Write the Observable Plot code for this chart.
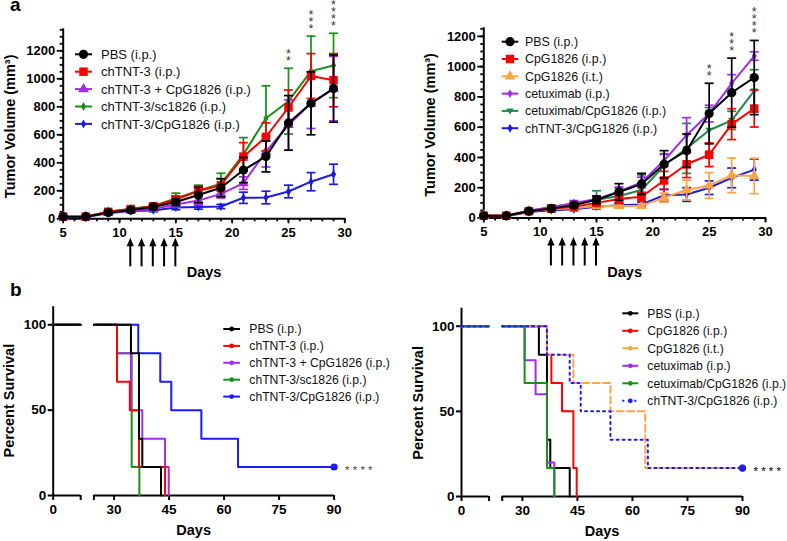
<!DOCTYPE html>
<html><head><meta charset="utf-8">
<script src="https://cdn.jsdelivr.net/npm/d3@7"></script>
<script src="https://cdn.jsdelivr.net/npm/@observablehq/plot@0.6"></script>
<style>
html,body{margin:0;padding:0;background:#fff;}
#root{position:relative;width:787px;height:541px;overflow:hidden;font-family:"Liberation Sans",Arial,Helvetica,sans-serif;}
#root svg{position:absolute;overflow:visible;}
.tag{position:absolute;font-weight:bold;font-size:19px;line-height:10px;}
</style></head><body>
<div id="root">
  <div class="tag" style="left:10px;top:0px">a</div>
  <div class="tag" style="left:10px;top:285px">b</div>
</div>
<script>
// ---------------- DATA ----------------
const days = [5, 7, 9, 11, 13, 15, 17, 19, 21, 23, 25, 27, 29];
const treatmentDays = [11, 12, 13, 14, 15];
const xMajorTicks = [5, 10, 15, 20, 25, 30];

// Panel a, left
const aLeftLabels = ["PBS (i.p.)", "chTNT-3 (i.p.)", "chTNT-3 + CpG1826 (i.p.)", "chTNT-3/sc1826 (i.p.)", "chTNT-3/CpG1826 (i.p.)"];
const aLeftMeans = [
  [15, 15, 45, 62, 85, 120, 170, 222, 348, 445, 685, 825, 930],
  [15, 15, 50, 70, 90, 138, 198, 240, 444, 585, 795, 1020, 990],
  [15, 15, 45, 60, 70, 102, 130, 178, 255, 480, 670, 825, 930],
  [15, 15, 50, 72, 92, 145, 200, 250, 460, 718, 840, 1055, 1095],
  [10, 12, 40, 55, 60, 80, 84, 88, 150, 152, 195, 265, 318]
];
const aLeftErrs = [
  [5, 5, 10, 12, 15, 25, 55, 65, 90, 110, 195, 225, 240],
  [5, 5, 8, 12, 15, 25, 35, 45, 100, 100, 125, 160, 190],
  [5, 5, 8, 10, 12, 15, 30, 30, 45, 110, 180, 180, 230],
  [5, 5, 8, 10, 15, 38, 40, 75, 120, 232, 235, 250, 230],
  [5, 5, 8, 10, 10, 15, 15, 15, 40, 45, 45, 65, 72]
];
const aLeftYTicks = [0, 200, 400, 600, 800, 1000, 1200];
const aLeftStars = [{day: 25, label: "**"}, {day: 27, label: "***"}, {day: 29, label: "****"}];

// Panel a, right
const aRightLabels = ["PBS (i.p.)", "CpG1826 (i.p.)", "CpG1826 (i.t.)", "cetuximab (i.p.)", "cetuximab/CpG1826 (i.p.)", "chTNT-3/CpG1826 (i.p.)"];
const aRightMeans = [
  [15, 15, 45, 62, 85, 120, 172, 225, 355, 445, 690, 828, 928],
  [15, 15, 45, 62, 75, 100, 126, 140, 248, 355, 418, 620, 723],
  [15, 15, 45, 60, 65, 80, 80, 80, 135, 185, 215, 282, 278],
  [15, 15, 50, 70, 100, 125, 175, 235, 380, 547, 690, 890, 1070],
  [15, 15, 45, 75, 95, 120, 145, 185, 345, 460, 580, 645, 840],
  [10, 12, 40, 52, 57, 75, 85, 90, 150, 155, 200, 265, 320]
];
const aRightErrs = [
  [5, 5, 10, 12, 15, 25, 55, 70, 90, 110, 200, 228, 245],
  [5, 5, 8, 10, 12, 20, 30, 30, 60, 88, 78, 102, 122],
  [5, 5, 8, 10, 10, 15, 15, 15, 30, 65, 85, 115, 117],
  [5, 5, 8, 10, 15, 20, 30, 35, 40, 116, 55, 57, 28],
  [5, 5, 8, 12, 15, 60, 50, 100, 80, 165, 150, 60, 140],
  [5, 5, 8, 10, 10, 15, 15, 15, 40, 45, 45, 65, 70]
];
const aRightYTicks = [0, 200, 400, 600, 800, 1000, 1200];
const aRightStars = [{day: 25, label: "**"}, {day: 27, label: "***"}, {day: 29, label: "****"}];

// Panel b, left (Kaplan-Meier: event days and survival % after each event)
const bLeftLabels = ["PBS (i.p.)", "chTNT-3 (i.p.)", "chTNT-3 + CpG1826 (i.p.)", "chTNT-3/sc1826 (i.p.)", "chTNT-3/CpG1826 (i.p.)"];
const bLeftTimes = [
  [34.6, 36.8, 37.7, 42.8],
  [30.8, 34.3, 36.8, 43.9],
  [30.8, 34.6, 37.7, 43.9, 44.9],
  [30.8, 34.8, 36.9],
  [36.6, 42.6, 45.6, 53.8, 63.8]
];
const bLeftSurv = [
  [83.3, 33.3, 16.7, 0],
  [66.7, 50, 16.7, 0],
  [83.3, 50, 33.3, 16.7, 0],
  [83.3, 16.7, 0],
  [83.3, 66.7, 50, 33.3, 16.7]
];

// Panel b, right
const bRightLabels = ["PBS (i.p.)", "CpG1826 (i.p.)", "CpG1826 (i.t.)", "cetuximab (i.p.)", "cetuximab/CpG1826 (i.p.)", "chTNT-3/CpG1826 (i.p.)"];
const bRightTimes = [
  [34.5, 36.7, 37.6, 42.9],
  [36.7, 37.9, 40.8, 43.9, 44.8],
  [36.7, 43.9, 54.0, 63.5],
  [30.6, 33.6, 36.7, 38.7],
  [30.6, 36.7, 38.7],
  [36.7, 42.9, 45.9, 54.0, 64.2]
];
const bRightSurv = [
  [83.3, 33.3, 16.7, 0],
  [83.3, 66.7, 50, 16.7, 0],
  [83.3, 66.7, 50, 16.7],
  [80, 60, 20, 0],
  [66.7, 16.7, 0],
  [83.3, 66.7, 50, 33.3, 16.7]
];
const survTickDays = [0, 30, 45, 60, 75, 90];
const survYTicks = [0, 50, 100];

// ---------------- STYLE ----------------
const FONT = '"Liberation Sans", Arial, Helvetica, sans-serif';
const COL = {black: "#000000", red: "#ff0000", purple: "#a52af0", green: "#1a8f1a", teal: "#22874a", blue: "#1c1cd8", blue2: "#1a1aff", orange: "#ffa445"};
const capSym = {draw(ctx, size) { const r = Math.sqrt(size / Math.PI); ctx.moveTo(-r, 0); ctx.lineTo(r, 0); }};
const downTri = {draw(ctx, size) { const r = Math.sqrt(size / Math.PI); ctx.moveTo(-r * 1.15, -r * 0.75); ctx.lineTo(r * 1.15, -r * 0.75); ctx.lineTo(0, r * 1.15); ctx.closePath(); }};
const intFmt = d3.format("d");

// broken x axis for survival
const B1 = 7.5, B2 = 24.5, GAP = 3.6;
const tx = d => d <= B1 ? d : d - (B2 - B1) + GAP;
const untx = v => v <= B1 ? v : v + (B2 - B1) - GAP;

function legendMark(items, o) {
  return () => {
    const g = d3.create("svg:g");
    items.forEach((it, i) => {
      const y = o.y0 + i * o.dy;
      g.append("line").attr("x1", o.x1).attr("x2", o.x2).attr("y1", y).attr("y2", y)
        .attr("stroke", it.color).attr("stroke-width", 2).attr("stroke-dasharray", it.dash || null);
      g.append("path").attr("transform", `translate(${(o.x1 + o.x2) / 2},${y})`)
        .attr("d", d3.symbol(it.symbol, Math.PI * it.r * it.r)()).attr("fill", it.color);
      g.append("text").attr("x", o.tx).attr("y", y).attr("dy", "0.36em").attr("text-anchor", "start")
        .attr("font-size", o.fontSize).attr("font-weight", "normal").attr("fill", "#111").text(it.label);
    });
    return g.node();
  };
}

function arrowsMark(xs) {
  return (index, scales, values, dim) => {
    const g = d3.create("svg:g");
    const y0 = dim.height - dim.marginBottom;
    for (const d of xs) {
      const x = scales.x(d);
      g.append("line").attr("x1", x).attr("x2", x).attr("y1", y0 + 48).attr("y2", y0 + 25)
        .attr("stroke", "#000").attr("stroke-width", 2);
      g.append("path").attr("d", `M${x - 3.6},${y0 + 28}L${x},${y0 + 19.5}L${x + 3.6},${y0 + 28}Z`).attr("fill", "#000");
    }
    return g.node();
  };
}

function tumorPanel(c) {
  const marks = [];
  const yTop = c.yMax;
  marks.push(Plot.axisY({ticks: d3.range(0, yTop + 1, 50), tickSize: 3, tickFormat: () => "", strokeWidth: 1.8, label: null}));
  marks.push(Plot.axisY({ticks: c.yTicks, tickFormat: intFmt, tickSize: 6, tickPadding: 2, strokeWidth: 1.8, fontSize: 13, fontWeight: "bold", label: null}));
  marks.push(Plot.axisX({ticks: d3.range(5, 31, 1), tickSize: 3, tickFormat: () => "", strokeWidth: 1.8, label: null}));
  marks.push(Plot.axisX({ticks: xMajorTicks, tickFormat: intFmt, tickSize: 5, tickPadding: 4, strokeWidth: 1.8, fontSize: 13, fontWeight: "bold", label: null}));
  marks.push(Plot.ruleX([5], {strokeWidth: 2, strokeLinecap: "square"}));
  marks.push(Plot.ruleY([0], {strokeWidth: 2, strokeLinecap: "square"}));
  const rowsBy = c.means.map((m, gi) => days.map((d, i) => ({day: d, mean: m[i], lo: m[i] - c.errs[gi][i], hi: m[i] + c.errs[gi][i]})));
  for (let k = c.groups.length - 1; k >= 0; k--) {
    const rows = rowsBy[k], col = c.colors[k];
    marks.push(Plot.ruleX(rows, {x: "day", y1: "lo", y2: "hi", stroke: col, strokeWidth: 1.7}));
    marks.push(Plot.dot(rows, {x: "day", y: "hi", symbol: capSym, r: 4.5, stroke: col, fill: "none", strokeWidth: 1.7}));
    marks.push(Plot.dot(rows, {x: "day", y: "lo", symbol: capSym, r: 4.5, stroke: col, fill: "none", strokeWidth: 1.7}));
    marks.push(Plot.line(rows, {x: "day", y: "mean", stroke: col, strokeWidth: 2}));
    marks.push(Plot.dot(rows, {x: "day", y: "mean", symbol: c.symbols[k], r: c.radii[k], fill: col, stroke: "none"}));
  }
  const starRows = c.stars.map(s => {
    const i = days.indexOf(s.day);
    return {day: s.day, top: d3.max(rowsBy, r => r[i].hi), label: s.label};
  });
  marks.push(Plot.text(starRows, {x: "day", y: "top", text: d => d.label.split("").join("\n"), lineAnchor: "bottom", lineHeight: 0.58, fontSize: 12.5, fill: "#333", fontWeight: "normal", dy: -3}));
  marks.push(Plot.text(["Tumor Volume (mm³)"], {text: d => d, frameAnchor: "left", textAnchor: "middle", lineAnchor: "middle", rotate: -90, dx: c.yTitleDx, dy: c.yTitleDy, fontSize: 14.5, fontWeight: "bold"}));
  marks.push(Plot.text(["Days"], {text: d => d, frameAnchor: "bottom", textAnchor: "middle", lineAnchor: "middle", dy: c.xTitleDy, fontSize: 14.5, fontWeight: "bold"}));
  marks.push(arrowsMark(treatmentDays));
  marks.push(legendMark(c.groups.map((g, i) => ({label: g, color: c.colors[i], symbol: c.symbols[i], r: c.radii[i]})), c.legend));
  const svg = Plot.plot({
    width: c.w, height: c.h,
    marginLeft: c.m[0], marginRight: c.m[1], marginTop: c.m[2], marginBottom: c.m[3],
    x: {domain: [5, 30], axis: null},
    y: {domain: [0, yTop], axis: null},
    style: {fontFamily: FONT, fontSize: "13px", color: "#000", background: "transparent", overflow: "visible"},
    marks
  });
  svg.style.left = c.left + "px"; svg.style.top = c.top + "px";
  document.getElementById("root").appendChild(svg);
}

function survivalPanel(c) {
  const marks = [];
  marks.push(Plot.ruleX([0], {strokeWidth: 2, strokeLinecap: "square"}));
  marks.push(Plot.ruleY([0], {x1: tx(0), x2: tx(B1), strokeWidth: 2}));
  marks.push(Plot.ruleY([0], {x1: tx(B2), x2: tx(90), strokeWidth: 2}));
  marks.push(Plot.axisY({ticks: survYTicks, tickFormat: intFmt, tickSize: 5, tickPadding: 2, strokeWidth: 2, fontSize: 13.5, fontWeight: "bold", label: null}));
  marks.push(Plot.axisX({ticks: survTickDays.map(tx), tickFormat: v => String(Math.round(untx(v))), tickSize: 5, tickPadding: 4, strokeWidth: 2, fontSize: 13.5, fontWeight: "bold", label: null}));
  marks.push(Plot.axisX({ticks: [B1, B2].map(tx), tickFormat: () => "", tickSize: 5, strokeWidth: 2, label: null}));
  for (const k of c.order) {
    const col = c.colors[k], dash = c.dashes[k];
    const seg1 = [{d: 0, s: 100}, {d: B1, s: 100}];
    const seg2 = [{d: B2, s: 100}, ...c.times[k].map((t, i) => ({d: t, s: c.survs[k][i]}))];
    const last = c.survs[k][c.survs[k].length - 1];
    if (last > 0) seg2.push({d: 90, s: last});
    for (const seg of [seg1, seg2]) {
      marks.push(Plot.line(seg, {x: p => tx(p.d), y: "s", curve: "step-after", stroke: col, strokeWidth: 2, strokeDasharray: dash}));
    }
    if (last > 0) {
      marks.push(Plot.dot([{d: 90, s: last}], {x: p => tx(p.d), y: "s", r: 3.6, fill: col, stroke: "none"}));
      marks.push(Plot.text([{d: 90, s: last}], {x: p => tx(p.d), y: "s", text: () => "* * * *", textAnchor: "start", dx: 11, dy: 3, fontSize: 11.5, fill: "#444", fontWeight: "normal"}));
    }
  }
  marks.push(Plot.text(["Percent Survival"], {text: d => d, frameAnchor: "left", textAnchor: "middle", lineAnchor: "middle", rotate: -90, dx: c.yTitleDx, dy: c.yTitleDy, fontSize: 14.5, fontWeight: "bold"}));
  marks.push(Plot.text(["Days"], {text: d => d, frameAnchor: "bottom", textAnchor: "middle", lineAnchor: "middle", dy: c.xTitleDy, fontSize: 14.5, fontWeight: "bold"}));
  marks.push(legendMark(c.groups.map((g, i) => ({label: g, color: c.colors[i], symbol: d3.symbolCircle, r: 2.4, dash: c.dashes[i]})), c.legend));
  const svg = Plot.plot({
    width: c.w, height: c.h,
    marginLeft: c.m[0], marginRight: c.m[1], marginTop: c.m[2], marginBottom: c.m[3],
    x: {domain: [0, tx(90)], axis: null},
    y: {domain: [0, 110], axis: null},
    style: {fontFamily: FONT, fontSize: "13px", color: "#000", background: "transparent", overflow: "visible"},
    marks
  });
  svg.style.left = c.left + "px"; svg.style.top = c.top + "px";
  document.getElementById("root").appendChild(svg);
}

tumorPanel({
  left: 0, top: 0, w: 390, h: 290, m: [62.7, 45.7, 29.3, 71.7], yMax: 1350,
  groups: aLeftLabels, means: aLeftMeans, errs: aLeftErrs, yTicks: aLeftYTicks, stars: aLeftStars,
  colors: [COL.black, COL.red, COL.purple, COL.green, COL.blue],
  symbols: [d3.symbolCircle, d3.symbolSquare, d3.symbolTriangle, d3.symbolDiamond, d3.symbolDiamond],
  radii: [4.6, 4.8, 4.0, 2.7, 2.7],
  yTitleDx: -52.7, yTitleDy: 2, xTitleDy: 54,
  legend: {x1: 75, x2: 92, y0: 54.3, dy: 17.4, tx: 101, fontSize: 13}
});
tumorPanel({
  left: 390, top: 0, w: 397, h: 290, m: [93.3, 22, 28.3, 72.5], yMax: 1250,
  groups: aRightLabels, means: aRightMeans, errs: aRightErrs, yTicks: aRightYTicks, stars: aRightStars,
  colors: [COL.black, COL.red, COL.orange, COL.purple, COL.teal, COL.blue],
  symbols: [d3.symbolCircle, d3.symbolSquare, d3.symbolTriangle, d3.symbolDiamond, downTri, d3.symbolDiamond],
  radii: [4.6, 4.8, 4.0, 2.7, 3.2, 2.7],
  yTitleDx: -53.3, yTitleDy: 1.5, xTitleDy: 54.5,
  legend: {x1: 111.7, x2: 128.3, y0: 41.7, dy: 17.3, tx: 135, fontSize: 12.4}
});
survivalPanel({
  left: 0, top: 290, w: 390, h: 251, m: [52.7, 56.4, 17.2, 46],
  groups: bLeftLabels, times: bLeftTimes, survs: bLeftSurv,
  colors: [COL.black, COL.red, COL.purple, COL.green, COL.blue2],
  dashes: [null, null, null, null, null],
  order: [4, 3, 2, 1, 0],
  yTitleDx: -44.2, yTitleDy: -1, xTitleDy: 35,
  legend: {x1: 223.3, x2: 240, y0: 39, dy: 16.9, tx: 249.3, fontSize: 12.2}
});
survivalPanel({
  left: 390, top: 290, w: 397, h: 251, m: [71, 45, 18.7, 45],
  groups: bRightLabels, times: bRightTimes, survs: bRightSurv,
  colors: [COL.black, COL.red, COL.orange, COL.purple, COL.green, COL.blue2],
  dashes: [null, null, "7,3.5", null, null, "2,4"],
  order: [0, 1, 2, 3, 4, 5],
  yTitleDx: -43, yTitleDy: 0, xTitleDy: 35,
  legend: {x1: 232.3, x2: 248.3, y0: 23.3, dy: 17.5, tx: 257.3, fontSize: 12.2}
});
</script>
</body></html>
